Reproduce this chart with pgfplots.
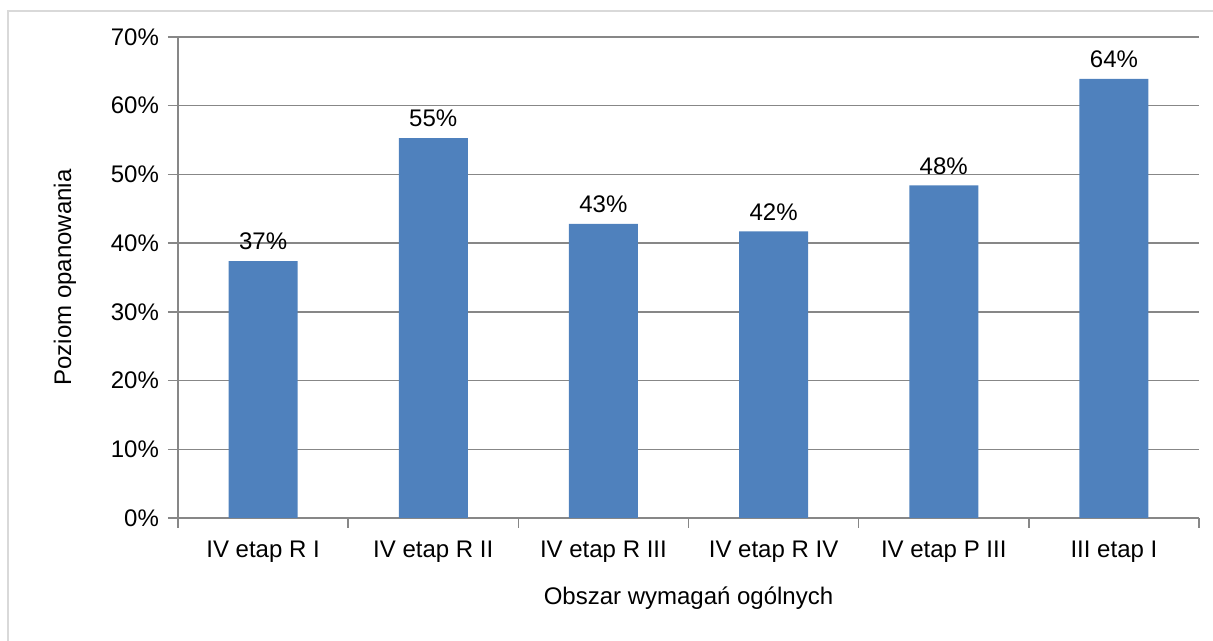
\documentclass[border=0pt]{standalone}
\usepackage{pgfplots}
\pgfplotsset{compat=1.18}
\usepackage{fontspec}
\setmainfont{Liberation Sans}
\definecolor{barblue}{HTML}{4F81BD}
\definecolor{gridgray}{HTML}{878787}
\definecolor{framegray}{HTML}{D9D9D9}
\begin{document}
\begin{tikzpicture}
\useasboundingbox (-89pt,-61.5pt) rectangle (517.5pt,259pt);
\draw[framegray, line width=1pt] (-85pt,-80pt) rectangle (540pt,253.5pt);
\begin{axis}[
  at={(0,0)}, anchor=origin,
  scale only axis,
  width=510.5pt, height=240.5pt,
  xmin=0.5, xmax=6.5,
  ymin=0, ymax=70,
  ytick={0,10,...,70},
  yticklabel={\pgfmathprintnumber{\tick}\%},
  xtick={1,...,6},
  xticklabels={IV etap R I, IV etap R II, IV etap R III, IV etap R IV, IV etap P III, III etap I},
  minor xtick={0.5,1.5,...,6.5},
  major x tick style={draw=none},
  minor tick length=5pt,
  major tick length=5pt,
  tick align=outside,
  tick style={gridgray, line width=0.75pt},
  axis x line*=bottom,
  axis y line*=left,
  axis line style={gridgray, line width=0.75pt, -},
  ymajorgrids,
  grid style={gridgray, line width=0.75pt},
  /pgf/number format/assume math mode=true,
  ticklabel style={font=\fontsize{12pt}{14pt}\selectfont, text=black},
  yticklabel style={xshift=-1pt},
  ylabel={Poziom opanowania},
  xlabel={Obszar wymagań ogólnych},
  label style={font=\fontsize{12pt}{14pt}\selectfont},
  ylabel style={at={(axis description cs:-0.1107,0.5)}, anchor=center},
  xlabel style={at={(axis description cs:0.5,-0.1663)}, anchor=center},
  xticklabel style={yshift=-3pt},
  ybar, bar width=34.5pt,
  nodes near coords={\pgfmathprintnumber[fixed,precision=0]{\pgfplotspointmeta}\%},
  nodes near coords style={font=\fontsize{12pt}{14pt}\selectfont, text=black, yshift=2pt},
  clip=false,
]
\addplot[fill=barblue, draw=none] coordinates {
  (1,37.4) (2,55.3) (3,42.8) (4,41.7) (5,48.4) (6,63.9)
};
\end{axis}
\end{tikzpicture}
\end{document}
